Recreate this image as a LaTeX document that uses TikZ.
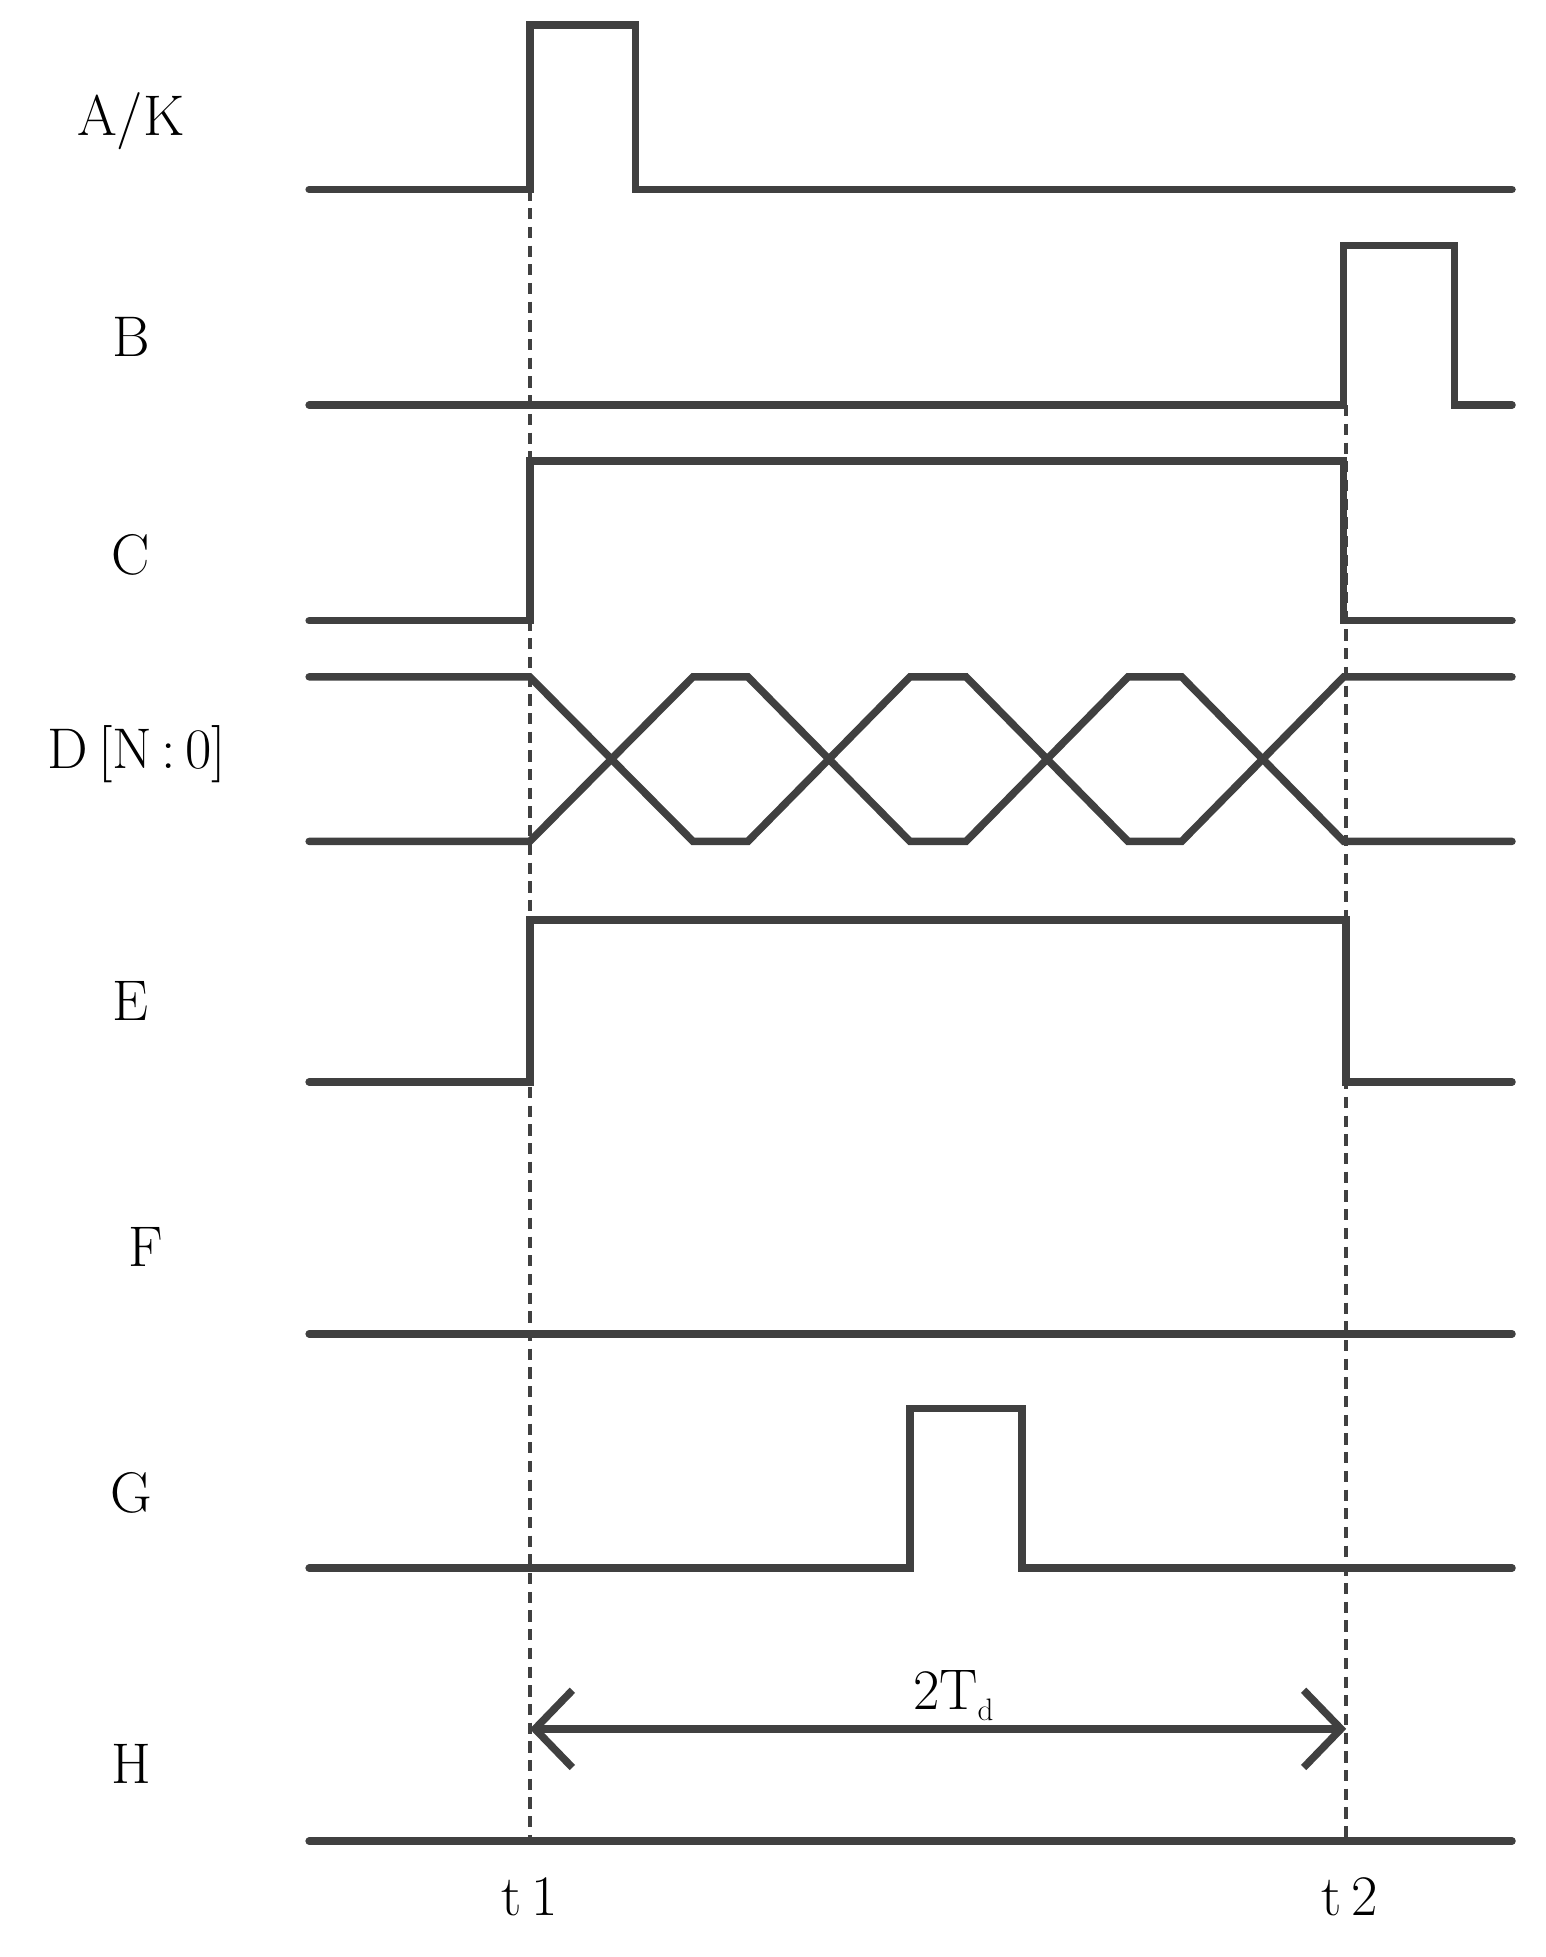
\documentclass[tikz,border=0pt]{standalone}
\usetikzlibrary{arrows.meta}
\definecolor{sig}{HTML}{404040}
\begin{document}
\begin{tikzpicture}[x=1pt,y=-1pt,
  wave/.style={draw=sig,line width=6pt,line join=miter,line cap=round},
  guide/.style={draw=sig,line width=3.5pt,dash pattern=on 9pt off 6pt},
  lab/.style={font=\fontsize{46}{50}\selectfont,text=black,inner sep=0pt}]
\useasboundingbox (0,0) rectangle (1240,1570);
\draw[wave] (248,152)--(425,152)--(425,20)--(510,20)--(510,152)--(1213,152);
\draw[wave] (248,325)--(1078,325)--(1078,197)--(1167,197)--(1167,325)--(1213,325);
\draw[wave] (248,498)--(425,498)--(425,370)--(1078,370)--(1078,498)--(1213,498);
\draw[wave] (248,543)--(425,543)--(556,675)--(600,675)--(730,543)--(775,543)--(905,675)--(948,675)--(1078,543)--(1213,543);
\draw[wave] (248,675)--(425,675)--(556,543)--(600,543)--(730,675)--(775,675)--(905,543)--(948,543)--(1078,675)--(1213,675);
\draw[wave] (248,868)--(425,868)--(425,738)--(1080,738)--(1080,868)--(1213,868);
\draw[wave] (248,1070)--(1213,1070);
\draw[wave] (248,1258)--(730,1258)--(730,1130)--(820,1130)--(820,1258)--(1213,1258);
\draw[wave] (248,1477)--(1213,1477);
\coordinate (d1a) at (425,152); \coordinate (d1b) at (425,1477);
\coordinate (d2a) at (1080,325); \coordinate (d2b) at (1080,1477);
\draw[guide] (d1a)--(d1b);
\draw[guide] (d2a)--(d2b);
\coordinate (ar1) at (425,1387); \coordinate (ar2) at (1080,1387);
\draw[draw=sig,line width=6pt,{Straight Barb[length=30pt,width=62pt,line width=6pt]}-{Straight Barb[length=30pt,width=62pt,line width=6pt]}] (ar1)--(ar2);
\node[lab] (lA) at (105,97) {A/K};
\node[lab] (lB) at (105,270) {B};
\node[lab] (lC) at (105,445) {C};
\node[lab] (lD) at (110,605) {D\,[N\,:\,0]};
\node[lab] (lE) at (105,803) {E};
\node[lab] (lF) at (117,1000) {F};
\node[lab] (lG) at (105,1198) {G};
\node[lab] (lH) at (105,1415) {H};
\node[lab] (t1) at (425,1522) {t\,1};
\node[lab] (t2) at (1083,1522) {t\,2};
\node[lab] (td) at (765,1360) {2T$_\mathrm{d}$};
\end{tikzpicture}
\end{document}
